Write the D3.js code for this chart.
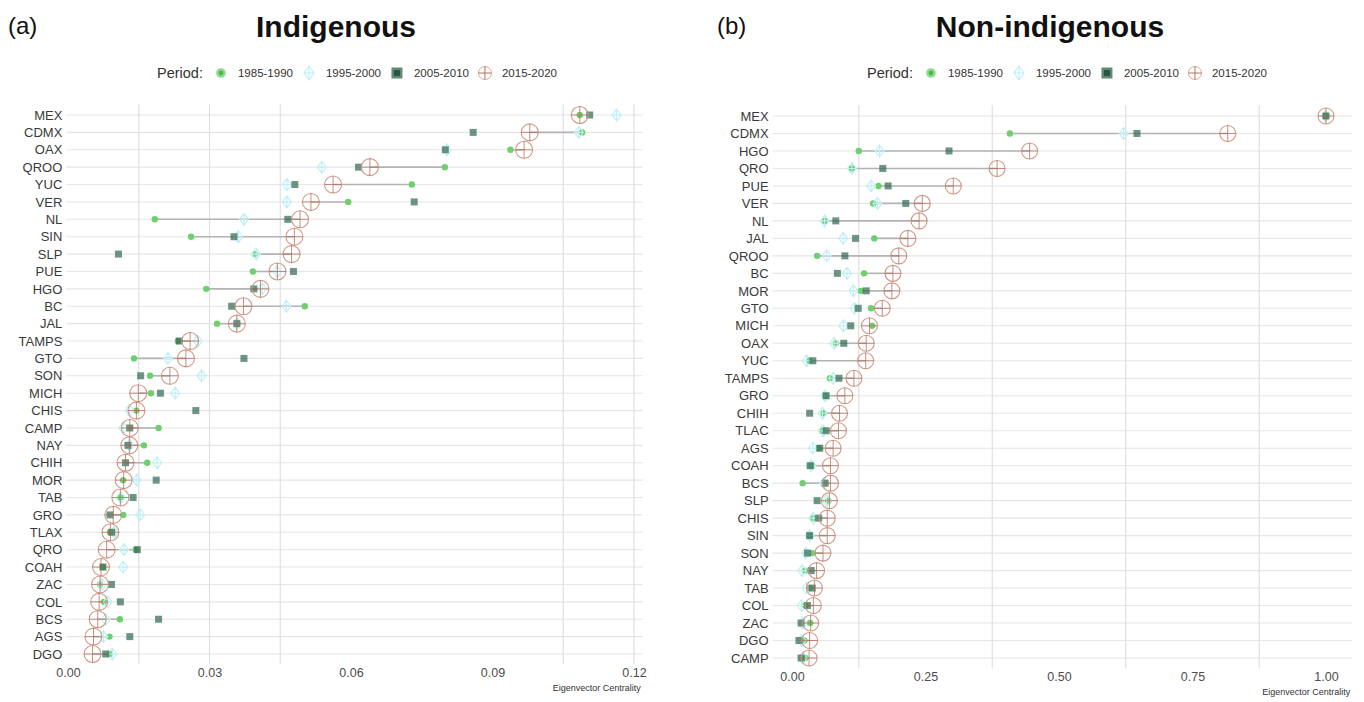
<!DOCTYPE html>
<html>
<head>
<meta charset="utf-8">
<script src="https://cdn.jsdelivr.net/npm/d3@7"></script>
<style>
  body { margin: 0; background: #fff; }
  text { font-family: "Liberation Sans", Arial, sans-serif; }
</style>
</head>
<body>
<svg id="svg"></svg>
<script>
// DATA
var periods = ["1985-1990", "1995-2000", "2005-2010", "2015-2020"];

var indStates = ["MEX","CDMX","OAX","QROO","YUC","VER","NL","SIN","SLP","PUE","HGO","BC","JAL","TAMPS","GTO","SON",
  "MICH","CHIS","CAMP","NAY","CHIH","MOR","TAB","GRO","TLAX","QRO","COAH","ZAC","COL","BCS","AGS","DGO"];
var ind1985 = [0.1085,0.1090,0.0938,0.0799,0.0729,0.0594,0.0184,0.0261,0.0396,0.0392,0.0293,0.0502,0.0316,0.0233,0.0140,0.0174,
  0.0176,0.0145,0.0192,0.0161,0.0168,0.0117,0.0111,0.0117,0.0089,0.0144,0.0074,0.0068,0.0076,0.0110,0.0088,0.0089];
var ind1995 = [0.1163,0.1083,0.0803,0.0538,0.0464,0.0464,0.0373,0.0361,0.0399,0.0443,0.0412,0.0463,0.0358,0.0275,0.0212,0.0283,
  0.0227,0.0130,0.0117,0.0131,0.0189,0.0146,0.0112,0.0153,0.0098,0.0119,0.0117,0.0072,0.0084,0.0080,0.0075,0.0094];
var ind2005 = [0.1106,0.0859,0.0800,0.0616,0.0481,0.0734,0.0466,0.0352,0.0107,0.0478,0.0394,0.0347,0.0358,0.0236,0.0373,0.0154,
  0.0196,0.0271,0.0131,0.0127,0.0122,0.0187,0.0138,0.0089,0.0093,0.0147,0.0074,0.0092,0.0111,0.0192,0.0131,0.0080];
var ind2015 = [0.1085,0.0979,0.0967,0.0640,0.0562,0.0515,0.0492,0.0480,0.0474,0.0444,0.0408,0.0372,0.0358,0.0259,0.0250,0.0216,
  0.0149,0.0145,0.0131,0.0130,0.0122,0.0118,0.0111,0.0096,0.0090,0.0082,0.0070,0.0068,0.0066,0.0063,0.0054,0.0052];

var nonStates = ["MEX","CDMX","HGO","QRO","PUE","VER","NL","JAL","QROO","BC","MOR","GTO","MICH","OAX","YUC","TAMPS",
  "GRO","CHIH","TLAC","AGS","COAH","BCS","SLP","CHIS","SIN","SON","NAY","TAB","COL","ZAC","DGO","CAMP"];
var non1985 = [0.999,0.408,0.125,0.112,0.162,0.152,0.062,0.154,0.047,0.135,0.129,0.148,0.150,0.082,0.032,0.071,
  0.063,0.059,0.056,0.050,0.038,0.020,0.068,0.039,0.034,0.038,0.024,0.032,0.025,0.034,0.023,0.025];
var non1995 = [0.999,0.621,0.164,0.112,0.148,0.160,0.061,0.096,0.065,0.103,0.115,0.117,0.096,0.079,0.0275,0.077,
  0.062,0.057,0.058,0.039,0.036,0.060,0.065,0.040,0.033,0.026,0.019,0.0275,0.018,0.020,0.018,0.020];
var non2005 = [1.000,0.646,0.294,0.170,0.180,0.213,0.082,0.119,0.099,0.085,0.139,0.124,0.110,0.097,0.039,0.088,
  0.064,0.033,0.064,0.052,0.034,0.062,0.047,0.050,0.033,0.029,0.036,0.038,0.029,0.017,0.013,0.017];
var non2015 = [1.000,0.816,0.445,0.384,0.302,0.244,0.238,0.217,0.200,0.189,0.187,0.169,0.145,0.139,0.138,0.116,
  0.099,0.089,0.087,0.077,0.072,0.072,0.070,0.066,0.066,0.058,0.046,0.042,0.040,0.035,0.033,0.032];

var indTicks = [0, 0.03, 0.06, 0.09, 0.12];
var indGrid = [0.015, 0.03, 0.045, 0.105, 0.12];
var nonTicks = [0, 0.25, 0.5, 0.75, 1.0];
var nonGrid = [0.125, 0.375, 0.625, 0.875];

var svg = d3.select("#svg").attr("width", 1364).attr("height", 702);
svg.append("rect").attr("width", 1364).attr("height", 702).attr("fill", "#fff");

function drawPanel(cfg) {
  var g = svg.append("g");
  var rows = cfg.states.map(function (s, i) {
    return { state: s, v: [cfg.v1[i], cfg.v2[i], cfg.v3[i], cfg.v4[i]] };
  });

  var x = d3.scaleLinear().domain([0, cfg.ticks[cfg.ticks.length - 1]]).range(cfg.xr);
  var y = d3.scalePoint().domain(cfg.states).range(cfg.yr);

  var all = [].concat(cfg.v1, cfg.v2, cfg.v3, cfg.v4);
  var ext = d3.extent(all), pad = (ext[1] - ext[0]) * 0.05;
  var x0 = x(ext[0] - pad), x1 = x(ext[1] + pad);
  var y0 = cfg.yr[0] - y.step() * 0.6, y1 = cfg.yr[1] + y.step() * 0.6;

  // grid
  g.selectAll(".hg").data(cfg.states).enter().append("line")
    .attr("x1", x0).attr("x2", x1)
    .attr("y1", function (d) { return y(d); }).attr("y2", function (d) { return y(d); })
    .attr("stroke", "#e6e6e6").attr("stroke-width", 1.1);
  g.selectAll(".vg").data(cfg.grid).enter().append("line")
    .attr("x1", function (d) { return x(d); }).attr("x2", function (d) { return x(d); })
    .attr("y1", y0).attr("y2", y1)
    .attr("stroke", "#e0e0e0").attr("stroke-width", 1.2);

  // axes
  var xa = g.append("g").attr("transform", "translate(0," + y1 + ")")
    .call(d3.axisBottom(x).tickValues(cfg.ticks).tickFormat(d3.format(".2f")).tickSize(0).tickPadding(4));
  xa.select(".domain").remove();
  xa.selectAll("text").attr("font-size", 12.5).attr("fill", "#4d4d4d")
    .style("font-family", "Liberation Sans, Arial, sans-serif");

  var ya = g.append("g").attr("transform", "translate(" + x0 + ",0)")
    .call(d3.axisLeft(y).tickSize(0).tickPadding(4));
  ya.select(".domain").remove();
  ya.selectAll("text").attr("font-size", 13).attr("fill", "#3a3a3a")
    .style("font-family", "Liberation Sans, Arial, sans-serif");

  g.append("text").attr("x", x1 - 2).attr("y", y1 + 27).attr("text-anchor", "end")
    .attr("font-size", 9).attr("fill", "#333").text("Eigenvector Centrality");

  // segments 1985 -> 2015
  g.selectAll(".seg").data(rows).enter().append("line")
    .attr("x1", function (d) { return x(d.v[0]); }).attr("x2", function (d) { return x(d.v[3]); })
    .attr("y1", function (d) { return y(d.state); }).attr("y2", function (d) { return y(d.state); })
    .attr("stroke", "#b3b3b3").attr("stroke-width", 1.6);

  // 1985-1990
  g.selectAll(".p1").data(rows).enter().append("circle")
    .attr("cx", function (d) { return x(d.v[0]); }).attr("cy", function (d) { return y(d.state); })
    .attr("r", 3.2).attr("fill", "#6ecf6e");
  // 1995-2000
  g.selectAll(".p2").data(rows).enter().append("path")
    .attr("transform", function (d) { return "translate(" + x(d.v[1]) + "," + y(d.state) + ")"; })
    .attr("d", "M0,-6L4.5,0L0,6L-4.5,0Z M0,-6V6 M-4.5,0H4.5")
    .attr("fill", "none").attr("stroke", "#bfeff6").attr("stroke-width", 1.1);
  // 2005-2010
  g.selectAll(".p3").data(rows).enter().append("rect")
    .attr("x", function (d) { return x(d.v[2]) - 3.5; }).attr("y", function (d) { return y(d.state) - 3.5; })
    .attr("width", 7).attr("height", 7).attr("fill", "#2f6650").attr("opacity", 0.7);
  // 2015-2020
  var r = cfg.cr;
  var c4 = g.selectAll(".p4").data(rows).enter().append("g")
    .attr("transform", function (d) { return "translate(" + x(d.v[3]) + "," + y(d.state) + ")"; });
  c4.append("circle").attr("r", r).attr("fill", "none").attr("stroke", "#cf9a88").attr("stroke-width", 1.1);
  c4.append("path").attr("d", "M0," + (-r) + "V" + r + "M" + (-r) + ",0H" + r)
    .attr("stroke", "#b5624e").attr("stroke-width", 0.9).attr("opacity", 0.8);

  // titles
  svg.append("text").attr("x", cfg.tagX).attr("y", 34).attr("font-size", 24).attr("fill", "#111").text(cfg.tag);
  svg.append("text").attr("x", cfg.titleX).attr("y", 37).attr("text-anchor", "middle")
    .attr("font-size", 30).attr("font-weight", "bold").attr("fill", "#111").text(cfg.title);

  // legend
  var lg = svg.append("g").attr("transform", "translate(" + cfg.legX + ",73)");
  var t = lg.append("text").attr("x", 0).attr("y", 5).attr("font-size", 14.5).attr("fill", "#333").text("Period:");
  var lx = t.node().getComputedTextLength() + 18;
  periods.forEach(function (p, i) {
    var s = lg.append("g").attr("transform", "translate(" + lx + ",0)");
    if (i === 0) {
      s.append("circle").attr("r", 4.8).attr("fill", "#8fdc8f");
      s.append("circle").attr("r", 2.4).attr("fill", "#4cb84c");
    } else if (i === 1) {
      s.append("path").attr("d", "M0,-7L5,0L0,7L-5,0Z M0,-7V7 M-5,0H5")
        .attr("fill", "none").attr("stroke", "#bfeff6").attr("stroke-width", 1.1);
    } else if (i === 2) {
      s.append("rect").attr("x", -5.5).attr("y", -5.5).attr("width", 11).attr("height", 11).attr("fill", "#5f8a78");
      s.append("rect").attr("x", -3).attr("y", -3).attr("width", 6).attr("height", 6).attr("fill", "#2a5540");
    } else {
      s.append("circle").attr("r", 6.5).attr("fill", "none").attr("stroke", "#d7a898").attr("stroke-width", 1);
      s.append("path").attr("d", "M0,-6.5V6.5M-6.5,0H6.5").attr("stroke", "#b5624e").attr("stroke-width", 0.9);
    }
    var tx = lg.append("text").attr("x", lx + 17).attr("y", 4).attr("font-size", 11.5).attr("fill", "#333").text(p);
    lx = lx + 17 + tx.node().getComputedTextLength() + 16;
  });
}

drawPanel({
  states: indStates, v1: ind1985, v2: ind1995, v3: ind2005, v4: ind2015,
  ticks: indTicks, grid: indGrid, xr: [68, 634], yr: [115, 654], cr: 8.5,
  tag: "(a)", tagX: 8, title: "Indigenous", titleX: 336, legX: 157
});
drawPanel({
  states: nonStates, v1: non1985, v2: non1995, v3: non2005, v4: non2015,
  ticks: nonTicks, grid: nonGrid, xr: [792, 1326], yr: [116, 658], cr: 8,
  tag: "(b)", tagX: 717, title: "Non-indigenous", titleX: 1050, legX: 867
});
</script>
</body>
</html>
